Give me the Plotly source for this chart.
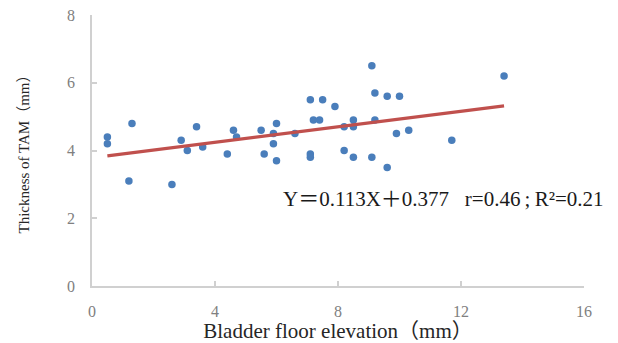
import numpy as np
import plotly.graph_objects as go

# Bladder floor elevation (mm)
bfe = [0.5, 0.5, 1.3, 1.2, 2.6, 2.9, 3.1, 3.4, 3.6, 4.4, 4.6, 4.7, 5.5, 5.6, 5.9, 5.9,
       6.0, 6.0, 6.6, 7.1, 7.1, 7.1, 7.2, 7.4, 7.5, 7.9, 8.2, 8.2, 8.5, 8.5, 8.5,
       9.1, 9.2, 9.2, 9.1, 9.6, 9.6, 9.9, 10.0, 10.3, 11.7, 13.4]
# Thickness of TAM (mm)
tam = [4.4, 4.2, 4.8, 3.1, 3.0, 4.3, 4.0, 4.7, 4.1, 3.9, 4.6, 4.4, 4.6, 3.9, 4.5, 4.2,
       4.8, 3.7, 4.5, 5.5, 3.9, 3.8, 4.9, 4.9, 5.5, 5.3, 4.7, 4.0, 4.9, 4.7, 3.8,
       6.5, 5.7, 4.9, 3.8, 5.6, 3.5, 4.5, 5.6, 4.6, 4.3, 6.2]

x_ticks = [0, 4, 8, 12, 16]
y_ticks = [0, 2, 4, 6, 8]

slope, intercept = np.polyfit(bfe, tam, 1)
fit_x = [min(bfe), max(bfe)]
fit_y = [slope * v + intercept for v in fit_x]

serif = "Liberation Serif, Times New Roman, Noto Sans CJK SC, serif"

fig = go.Figure()
fig.add_trace(go.Scatter(x=bfe, y=tam, mode="markers",
                         marker=dict(size=7.5, color="#4A7EBB"),
                         showlegend=False, hoverinfo="skip"))
fig.add_trace(go.Scatter(x=fit_x, y=fit_y, mode="lines",
                         line=dict(color="#C0504D", width=3.2),
                         showlegend=False, hoverinfo="skip"))

axis_common = dict(showgrid=False, zeroline=False, showline=True,
                   linecolor="#D0D0D0", linewidth=1.5,
                   ticks="inside", ticklen=5, tickcolor="#D0D0D0", tickwidth=1.5,
                   ticklabeloverflow="allow",
                   tickfont=dict(family=serif, size=16, color="#808080"))

fig.update_xaxes(range=[0, 16], tickvals=x_ticks, ticklabelstandoff=10, **axis_common,
                 title=dict(text="Bladder floor elevation（mm）",
                            font=dict(family=serif, size=21, color="#262626"),
                            standoff=0))
fig.update_yaxes(range=[0, 8], tickvals=y_ticks, ticklabelstandoff=12, **axis_common,
                 title=dict(text="Thickness of TAM（mm）",
                            font=dict(family=serif, size=15, color="#262626"),
                            standoff=34))

fig.add_annotation(xref="paper", yref="paper", x=0.385, y=0.322,
                   xanchor="left", yanchor="middle", showarrow=False,
                   text="Y＝0.113X＋0.377&nbsp;&nbsp;&nbsp;r=0.46\u2009;\u2009R²=0.21",
                   font=dict(family=serif, size=21, color="#1a1a1a"))

# page body has an 8px margin; size the figure so it fits the 618x343 window
fig.update_layout(width=610, height=335,
                  margin=dict(l=84, r=34, t=7, b=57, autoexpand=False),
                  plot_bgcolor="white", paper_bgcolor="white")

fig.write_html("out.html")
